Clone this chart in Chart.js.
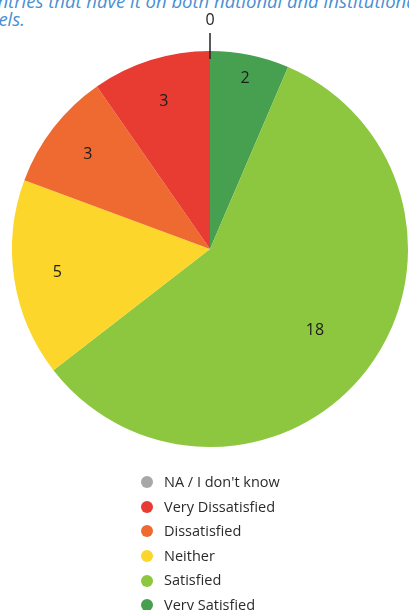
<!DOCTYPE html>
<html>
<head>
<meta charset="utf-8">
<script src="https://cdn.jsdelivr.net/npm/chart.js@4.4.1/dist/chart.umd.min.js"></script>
<style>
  html, body { margin: 0; padding: 0; background: #ffffff; overflow: hidden; }
  #wrap { position: relative; width: 409px; height: 610px; overflow: hidden; }
  #pie { position: absolute; left: 0; top: 0; }
  .caption { position: absolute; white-space: nowrap; font-family: "Open Sans", sans-serif;
             font-style: italic; font-size: 18.5px; color: #4a8fd2; line-height: 18px; }
  #legend { position: absolute; left: 141px; top: 470px; margin: 0; padding: 0; list-style: none;
            font-family: "Open Sans", sans-serif; font-size: 14.5px; color: #2b2b2b; }
  #legend li { height: 24.6px; line-height: 24.6px; display: flex; align-items: center; }
  #legend .dot { width: 12px; height: 12px; border-radius: 50%; margin-right: 11px; display: inline-block; }
</style>
</head>
<body>
<div id="wrap">
  <div class="caption" style="left:-32px; top:-8px;">countries that have it on both national and institutional</div>
  <div class="caption" style="left:-24px; top:10px;">levels.</div>
  <canvas id="pie" width="409" height="610"></canvas>
  <ul id="legend"></ul>
</div>
<script>
// Satisfaction answers, in drawing order clockwise from 12 o'clock
const categories = ['Very Satisfied', 'Satisfied', 'Neither', 'Dissatisfied', 'Very Dissatisfied', "NA / I don't know"];
const counts = [2, 18, 5, 3, 3, 0];
const colors = ['#47a04f', '#8dc63f', '#fcd62b', '#ee6a30', '#e83c32', '#a7a7a7'];

// Value labels: inside each slice, zero-valued slices get a leader line outside
const sliceLabels = {
  id: 'sliceLabels',
  afterDatasetsDraw(chart) {
    const ctx = chart.ctx;
    const meta = chart.getDatasetMeta(0);
    ctx.save();
    ctx.font = '16px "Open Sans", sans-serif';
    ctx.fillStyle = '#1c1c1c';
    ctx.textAlign = 'center';
    ctx.textBaseline = 'middle';
    meta.data.forEach((arc, i) => {
      const p = arc.getProps(['x', 'y', 'startAngle', 'endAngle', 'outerRadius'], true);
      const v = counts[i];
      const mid = (p.startAngle + p.endAngle) / 2;
      const span = p.endAngle - p.startAngle;
      const R = p.outerRadius;
      if (v === 0) {
        ctx.strokeStyle = '#222222';
        ctx.lineWidth = 1.5;
        ctx.beginPath();
        ctx.moveTo(p.x + Math.cos(mid) * (R - 8), p.y + Math.sin(mid) * (R - 8));
        ctx.lineTo(p.x + Math.cos(mid) * (R + 18), p.y + Math.sin(mid) * (R + 18));
        ctx.stroke();
        ctx.fillText(String(v), p.x + Math.cos(mid) * (R + 31), p.y + Math.sin(mid) * (R + 31));
      } else {
        const f = span > Math.PI ? 0.67 : (span < 0.5 ? 0.88 : 0.78);
        ctx.fillText(String(v), p.x + Math.cos(mid) * R * f, p.y + Math.sin(mid) * R * f);
      }
    });
    ctx.restore();
  }
};

new Chart(document.getElementById('pie'), {
  type: 'pie',
  data: {
    labels: categories,
    datasets: [{
      data: counts,
      backgroundColor: colors,
      borderWidth: 0,
      radius: 198
    }]
  },
  options: {
    responsive: false,
    devicePixelRatio: 1,
    animation: false,
    layout: { padding: { left: 11, right: 0, top: 0, bottom: 112 } },
    plugins: {
      legend: { display: false },
      tooltip: { enabled: false },
      title: { display: false }
    }
  },
  plugins: [sliceLabels]
});

// Legend list, listed in reverse of the drawing order
const legend = document.getElementById('legend');
categories.slice().reverse().forEach((name, k) => {
  const i = categories.length - 1 - k;
  const li = document.createElement('li');
  const dot = document.createElement('span');
  dot.className = 'dot';
  dot.style.background = colors[i];
  li.appendChild(dot);
  li.appendChild(document.createTextNode(name));
  legend.appendChild(li);
});
</script>
</body>
</html>
